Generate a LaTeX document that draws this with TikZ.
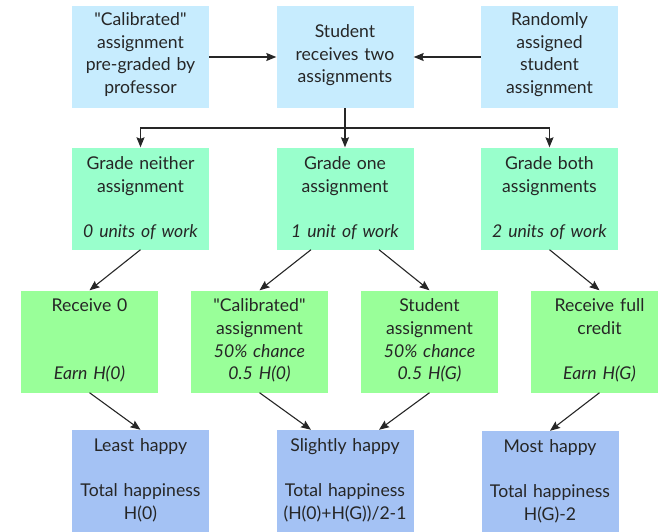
\documentclass[tikz,border=0pt]{standalone}
\usepackage{fontspec}
\newfontfamily\lato{Lato}
\usetikzlibrary{arrows.meta}
\definecolor{topblue}{HTML}{C7ECFE}
\definecolor{mint}{HTML}{99FFCC}
\definecolor{lgreen}{HTML}{99FF99}
\definecolor{botblue}{HTML}{A4C2F4}
\tikzset{
  box/.style={rectangle, draw=none, minimum width=137pt, minimum height=102pt, inner sep=0pt},
  txt/.style={inner sep=0pt, text width=137pt, align=center, font=\lato\fontsize{17.6}{22.6}\selectfont, text=black!85},
  arr/.style={-{Stealth[length=10pt,width=8pt,inset=1.5pt]}, line width=1.1pt, black!85},
}
\begin{document}
\begin{tikzpicture}[x=1pt,y=-1pt]
\useasboundingbox (0,0) rectangle (658,532);
% row 1
\node[box, fill=topblue] (a1) at (140.5,57) {};
\node[box, fill=topblue] (a2) at (345,57) {};
\node[box, fill=topblue] (a3) at (549.5,57) {};
\node[txt] (ta1) at ([yshift=2.5pt]a1.center) {"Calibrated"\\assignment\\pre-graded by\\professor};
\node[txt] (ta2) at ([yshift=1.5pt]a2.center) {Student\\receives two\\assignments};
\node[txt] (ta3) at ([yshift=2.5pt]a3.center) {Randomly\\assigned\\student\\assignment};
% row 2
\node[box, fill=mint] (b1) at (140.5,198.5) {};
\node[box, fill=mint] (b2) at (345,198.5) {};
\node[box, fill=mint] (b3) at (549.5,198.5) {};
\node[txt] (tb1) at ([yshift=0.5pt]b1.center) {Grade neither\\assignment\\~\\\textit{0 units of work}};
\node[txt] (tb2) at ([yshift=0.5pt]b2.center) {Grade one\\assignment\\~\\\textit{1 unit of work}};
\node[txt] (tb3) at ([yshift=0.5pt]b3.center) {Grade both\\assignments\\~\\\textit{2 units of work}};
% row 3
\node[box, fill=lgreen] (c1) at (89.5,341.5) {};
\node[box, fill=lgreen] (c2) at (259.5,341.5) {};
\node[box, fill=lgreen] (c3) at (429.5,341.5) {};
\node[box, fill=lgreen] (c4) at (599.5,341.5) {};
\node[txt] (tc1) at ([yshift=1pt]c1.center) {Receive 0\\~\\~\\\textit{Earn H(0)}};
\node[txt] (tc2) at ([yshift=1pt]c2.center) {"Calibrated"\\assignment\\\textit{50\% chance}\\\textit{0.5 H(0)}};
\node[txt] (tc3) at ([yshift=1pt]c3.center) {Student\\assignment\\\textit{50\% chance}\\\textit{0.5 H(G)}};
\node[txt] (tc4) at ([yshift=1pt]c4.center) {Receive full\\credit\\~\\\textit{Earn H(G)}};
% row 4
\node[box, fill=botblue] (d1) at (140.5,481) {};
\node[box, fill=botblue] (d2) at (345,481) {};
\node[box, fill=botblue] (d3) at (550,482) {};
\node[txt] (td1) at ([yshift=1pt]d1.center) {Least happy\\~\\Total happiness\\H(0)};
\node[txt] (td2) at ([yshift=1pt]d2.center) {Slightly happy\\~\\Total happiness\\(H(0)+H(G))/2-1};
\node[txt] (td3) at ([yshift=1pt]d3.center) {Most happy\\~\\Total happiness\\H(G)-2};
% connectors
\draw[arr] (a1.east) -- (a2.west);
\draw[arr] (a3.west) -- (a2.east);
\coordinate (split) at (345,128);
\draw[arr] (a2.south) -- (b2.north);
\draw[arr] (split) -| (b1.north);
\draw[arr] (split) -| (b3.north);
\draw[arr] (b1.south) -- (c1.north);
\draw[arr] ([xshift=-34pt]b2.south) -- (c2.north);
\draw[arr] ([xshift=34pt]b2.south) -- (c3.north);
\draw[arr] (b3.south) -- (c4.north);
\draw[arr] (c1.south) -- (d1.north);
\draw[arr] (c2.south) -- ([xshift=-34pt]d2.north);
\draw[arr] (c3.south) -- ([xshift=34pt]d2.north);
\draw[arr] (c4.south) -- (d3.north);
\end{tikzpicture}
\end{document}
